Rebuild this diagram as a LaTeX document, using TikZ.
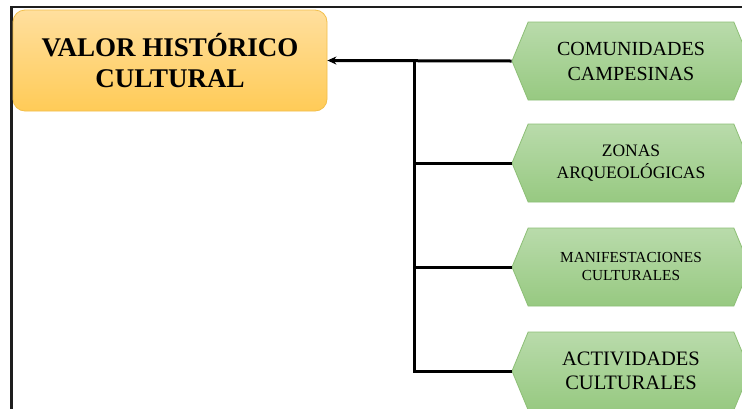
\documentclass[tikz,border=0pt]{standalone}
\usepackage{fontspec}
\setmainfont{Liberation Serif}
\usetikzlibrary{shapes.symbols,arrows.meta}
\definecolor{valortop}{HTML}{FFDF9E}
\definecolor{valorbot}{HTML}{FFCB57}
\definecolor{valorline}{HTML}{F2BF4A}
\definecolor{hextop}{HTML}{B9DBAB}
\definecolor{hexbot}{HTML}{97C981}
\definecolor{hexline}{HTML}{8DBF76}
\definecolor{marco}{HTML}{1E1E1E}

\tikzset{
  valorbox/.style={draw=valorline, line width=0.8pt, rounded corners=12pt,
    top color=valortop, bottom color=valorbot, minimum width=314pt,
    minimum height=101pt, align=center, inner sep=0pt},
  hexbox/.style={shape=signal, signal from=nowhere, signal to=west and east,
    signal pointer angle=135, draw=hexline, line width=0.8pt,
    top color=hextop, bottom color=hexbot, minimum width=238pt,
    minimum height=78pt, align=center, inner sep=0pt},
  rama/.style={line width=3pt, black}
}

\begin{document}
\begin{tikzpicture}[x=1pt, y=-1pt]
  \clip (0,0) rectangle (742,408);
  \useasboundingbox (0,0) rectangle (742,408);
  \fill[white] (0,0) rectangle (742,408);
  % marco
  \draw[marco, line width=2.6pt] (11.5,420) -- (11.5,7) -- (760,7);
  % caja principal
  \node[valorbox, font=\fontsize{27}{31}\selectfont\bfseries] (valor) at (170,60.5)
    {VALOR HIST\'ORICO\\CULTURAL};
  % hexagonos
  \node[hexbox, font=\fontsize{20}{25}\selectfont] (comunidades) at (631,61)
    {COMUNIDADES\\CAMPESINAS};
  \node[hexbox, font=\fontsize{17.5}{22}\selectfont] (zonas) at (631,163)
    {ZONAS\\ARQUEOL\'OGICAS};
  \node[hexbox, font=\fontsize{15.3}{18}\selectfont] (manifest) at (631,267)
    {MANIFESTACIONES\\CULTURALES};
  \node[hexbox, font=\fontsize{20.5}{24}\selectfont] (actividades) at (631,371)
    {ACTIVIDADES\\CULTURALES};
  \coordinate (tronco) at (414,61);
  % conectores
  \draw[rama, -{Stealth[length=9pt, width=8pt]}] (comunidades.west) -- (valor.east);
  \draw[rama] (actividades.west) -| (tronco);
  \draw[rama] (zonas.west) -- (zonas.west -| tronco);
  \draw[rama] (manifest.west) -- (manifest.west -| tronco);
\end{tikzpicture}
\end{document}
